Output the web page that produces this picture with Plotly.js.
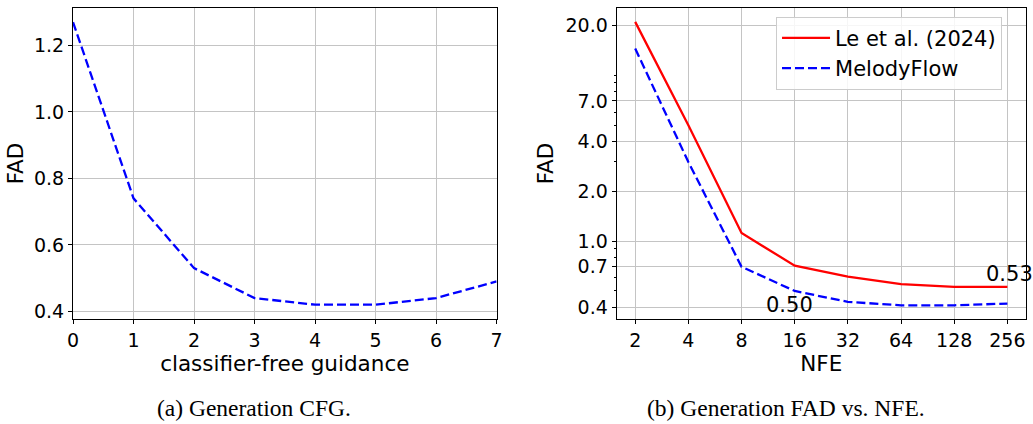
<!DOCTYPE html>
<html>
<head>
<meta charset="utf-8">
<script src="https://cdn.plot.ly/plotly-3.0.1.min.js"></script>
<style>
html,body{margin:0;padding:0;background:#fff;}
#chart{width:1033px;height:424px;}
</style>
</head>
<body>
<div id="chart"></div>
<script>
// ---- data ----
const cfgValues = [0, 1, 2, 3, 4, 5, 6, 7];
const cfgFAD = [1.27, 0.74, 0.53, 0.44, 0.42, 0.42, 0.44, 0.49];

const nfeValues = [2, 4, 8, 16, 32, 64, 128, 256];
const nfeTickLabels = ['2', '4', '8', '16', '32', '64', '128', '256'];
const leFAD = [21.0, 5.0, 1.12, 0.71, 0.61, 0.55, 0.53, 0.53];
const melodyFAD = [14.5, 3.0, 0.70, 0.50, 0.43, 0.41, 0.41, 0.42];

const fadTickVals = [0.4, 0.7, 1.0, 2.0, 4.0, 7.0, 20.0];
const fadTickText = ['0.4', '0.7', '1.0', '2.0', '4.0', '7.0', '20.0'];
const fadMinorVals = [0.5, 0.6, 0.8, 0.9, 3, 5, 6, 8, 9, 10];

const seriesNames = ['Le et al. (2024)', 'MelodyFlow'];
const captions = ['(a) Generation CFG.', '(b) Generation FAD vs. NFE.'];
const axisTitles = {cfgX: 'classifier-free guidance', nfeX: 'NFE', y: 'FAD'};

// ---- styles ----
const FONT = 'DejaVu Sans, Verdana, sans-serif';
const gridColor = '#c4c4c4';
const dash = '9px,4px';

const baseAxis = {
  showline: true, mirror: true, linecolor: '#000', linewidth: 1,
  ticks: 'outside', ticklen: 4, tickwidth: 1, tickcolor: '#000',
  showgrid: true, gridcolor: gridColor, gridwidth: 1,
  zeroline: false,
  tickfont: {family: FONT, size: 19, color: '#000'},
  title: {font: {family: FONT, size: 21.5, color: '#000'}}
};

const traces = [
  {
    x: cfgValues, y: cfgFAD, xaxis: 'x', yaxis: 'y',
    mode: 'lines', line: {color: '#0000ff', width: 2.3, dash: dash},
    showlegend: false, name: 'MelodyFlow CFG'
  },
  {
    x: nfeValues, y: leFAD, xaxis: 'x2', yaxis: 'y2',
    mode: 'lines', line: {color: '#ff0000', width: 2.3},
    name: seriesNames[0]
  },
  {
    x: nfeValues, y: melodyFAD, xaxis: 'x2', yaxis: 'y2',
    mode: 'lines', line: {color: '#0000ff', width: 2.3, dash: dash},
    name: seriesNames[1]
  }
];

const layout = {
  width: 1033, height: 424,
  margin: {l: 73, r: 7, t: 8, b: 105},
  paper_bgcolor: '#fff', plot_bgcolor: '#fff',
  font: {family: FONT, color: '#000'},
  xaxis: Object.assign({}, baseAxis, {
    domain: [0, 0.4445], range: [0, 7],
    tickvals: cfgValues, ticktext: cfgValues.map(String),
    title: {text: axisTitles.cfgX, font: baseAxis.title.font, standoff: 1}
  }),
  yaxis: Object.assign({}, baseAxis, {
    range: [0.377, 1.3125],
    tickvals: [0.4, 0.6, 0.8, 1.0, 1.2], tickformat: '.1f',
    title: {text: axisTitles.y, font: baseAxis.title.font, standoff: 4}
  }),
  xaxis2: Object.assign({}, baseAxis, {
    domain: [0.5704, 1], type: 'log',
    range: [Math.log10(2) * 0.65, Math.log10(2) * 8.35],
    tickvals: nfeValues, ticktext: nfeTickLabels,
    anchor: 'y2',
    title: {text: axisTitles.nfeX, font: baseAxis.title.font, standoff: 1}
  }),
  yaxis2: Object.assign({}, baseAxis, {
    type: 'log', anchor: 'x2',
    range: [-0.470, 1.406],
    tickvals: fadTickVals, ticktext: fadTickText,
    minor: {tickmode: 'array', tickvals: fadMinorVals, ticks: 'outside', ticklen: 2, tickwidth: 1, tickcolor: '#000', showgrid: false},
    title: {text: axisTitles.y, font: baseAxis.title.font, standoff: 5}
  }),
  legend: {
    x: 0.7377, y: 0.972, xanchor: 'left', yanchor: 'top',
    bgcolor: 'rgba(255,255,255,0.85)', bordercolor: '#cccccc', borderwidth: 1,
    font: {family: FONT, size: 21, color: '#000'},
    itemwidth: 48
  },
  annotations: [
    {
      xref: 'x2', yref: 'y2', x: Math.log10(nfeValues[3]), y: Math.log10(melodyFAD[3]),
      text: melodyFAD[3].toFixed(2), showarrow: false,
      xanchor: 'center', yanchor: 'middle', xshift: -5, yshift: -14,
      font: {family: FONT, size: 21, color: '#000'}
    },
    {
      xref: 'x2', yref: 'y2', x: Math.log10(nfeValues[7]), y: Math.log10(leFAD[7]),
      text: leFAD[7].toFixed(2), showarrow: false,
      xanchor: 'center', yanchor: 'middle', xshift: 2, yshift: 13,
      font: {family: FONT, size: 21, color: '#000'}
    },
    {
      xref: 'paper', yref: 'paper', x: (254 - 73) / 953, y: -(408 - 319) / 311,
      text: captions[0], showarrow: false, xanchor: 'center', yanchor: 'middle',
      font: {family: 'Liberation Serif, Times New Roman, serif', size: 23.5, color: '#000'}
    },
    {
      xref: 'paper', yref: 'paper', x: (786 - 73) / 953, y: -(408 - 319) / 311,
      text: captions[1], showarrow: false, xanchor: 'center', yanchor: 'middle',
      font: {family: 'Liberation Serif, Times New Roman, serif', size: 23.5, color: '#000'}
    }
  ]
};

Plotly.newPlot('chart', traces, layout, {displayModeBar: false, staticPlot: true});
</script>
</body>
</html>
